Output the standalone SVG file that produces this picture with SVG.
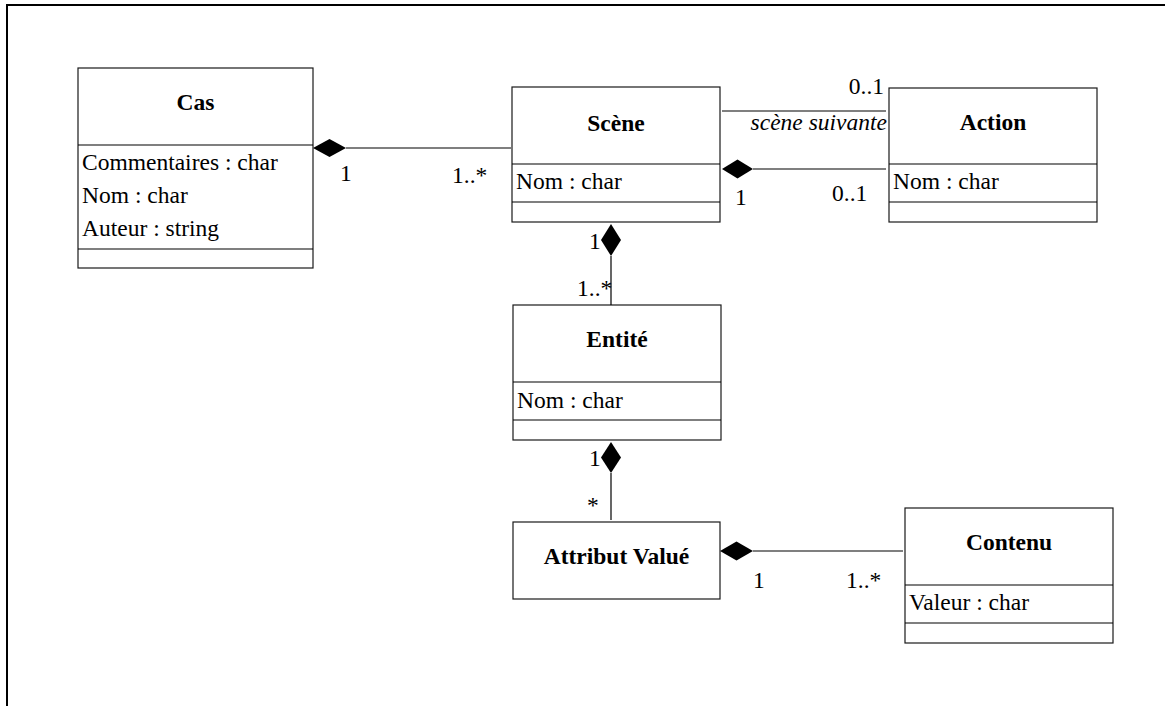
<svg xmlns="http://www.w3.org/2000/svg" width="1165" height="706" viewBox="0 0 1165 706">
  <style>
    text { font-family: "Liberation Serif", "Times New Roman", serif; font-size: 23.5px; fill: #000; }
    .title { font-weight: bold; text-anchor: middle; }
    .role { font-style: italic; text-anchor: end; }
    .end { text-anchor: end; }
    .box { fill: #fff; stroke: #1a1a1a; stroke-width: 1.2; }
    .sep { stroke: #000; stroke-width: 1.2; }
    .link { stroke: #000; stroke-width: 1.2; fill: none; }
    .frame { stroke: #000; stroke-width: 2; fill: none; }
    .comp { fill: #000; }
  </style>

  <!-- page frame -->
  <path class="frame" d="M7,706 V5 H1165"/>

  <!-- Cas -->
  <g id="cas">
    <rect class="box" x="78" y="68" width="235" height="200"/>
    <line class="sep" x1="78" y1="145" x2="313" y2="145"/>
    <line class="sep" x1="78" y1="249" x2="313" y2="249"/>
    <text class="title" x="195.5" y="110">Cas</text>
    <text x="82" y="170">Commentaires : char</text>
    <text x="82" y="203">Nom : char</text>
    <text x="82" y="236">Auteur : string</text>
  </g>

  <!-- Scène -->
  <g id="scene">
    <rect class="box" x="512" y="87" width="208" height="135"/>
    <line class="sep" x1="512" y1="164" x2="720" y2="164"/>
    <line class="sep" x1="512" y1="202" x2="720" y2="202"/>
    <text class="title" x="616" y="131">Scène</text>
    <text x="516" y="189">Nom : char</text>
  </g>

  <!-- Action -->
  <g id="action">
    <rect class="box" x="889" y="88" width="208" height="134"/>
    <line class="sep" x1="889" y1="164" x2="1097" y2="164"/>
    <line class="sep" x1="889" y1="202" x2="1097" y2="202"/>
    <text class="title" x="993" y="130">Action</text>
    <text x="893" y="189">Nom : char</text>
  </g>

  <!-- Entité -->
  <g id="entite">
    <rect class="box" x="513" y="305" width="208" height="135"/>
    <line class="sep" x1="513" y1="382" x2="721" y2="382"/>
    <line class="sep" x1="513" y1="420" x2="721" y2="420"/>
    <text class="title" x="617" y="347">Entité</text>
    <text x="517" y="408">Nom : char</text>
  </g>

  <!-- Attribut Valué -->
  <g id="attribut-value">
    <rect class="box" x="513" y="522" width="207" height="77"/>
    <text class="title" x="616.5" y="564">Attribut Valué</text>
  </g>

  <!-- Contenu -->
  <g id="contenu">
    <rect class="box" x="905" y="508" width="208" height="135"/>
    <line class="sep" x1="905" y1="585" x2="1113" y2="585"/>
    <line class="sep" x1="905" y1="623" x2="1113" y2="623"/>
    <text class="title" x="1009" y="550">Contenu</text>
    <text x="909" y="610">Valeur : char</text>
  </g>

  <!-- associations -->
  <g id="connectors">
    <!-- Cas <>— Scène -->
    <line class="link" x1="346" y1="148" x2="511" y2="148"/>
    <polygon class="comp" points="313,148 329.5,139 346,148 329.5,157"/>
    <text x="340" y="181">1</text>
    <text x="452" y="183">1..*</text>

    <!-- Scène — Action : scène suivante -->
    <line class="link" x1="722" y1="111" x2="886" y2="111"/>
    <text class="end" x="884" y="94">0..1</text>
    <text class="role" x="887" y="130">scène suivante</text>

    <!-- Scène <>— Action -->
    <line class="link" x1="753" y1="169" x2="886" y2="169"/>
    <polygon class="comp" points="722,169 737.5,159.5 753,169 737.5,178.5"/>
    <text x="735" y="205">1</text>
    <text x="832" y="201">0..1</text>

    <!-- Scène <>— Entité -->
    <line class="link" x1="611" y1="256" x2="611" y2="305"/>
    <polygon class="comp" points="611,224 621,240 611,256 601,240"/>
    <text x="589" y="249">1</text>
    <text x="577" y="296">1..*</text>

    <!-- Entité <>— Attribut Valué -->
    <line class="link" x1="611" y1="473" x2="611" y2="520"/>
    <polygon class="comp" points="611,442 621,457.5 611,473 601,457.5"/>
    <text x="589" y="466">1</text>
    <text x="587" y="513">*</text>

    <!-- Attribut Valué <>— Contenu -->
    <line class="link" x1="753" y1="551" x2="903" y2="551"/>
    <polygon class="comp" points="720,551 736.5,541.5 753,551 736.5,560.5"/>
    <text x="753" y="588">1</text>
    <text x="846" y="588">1..*</text>
  </g>
</svg>
